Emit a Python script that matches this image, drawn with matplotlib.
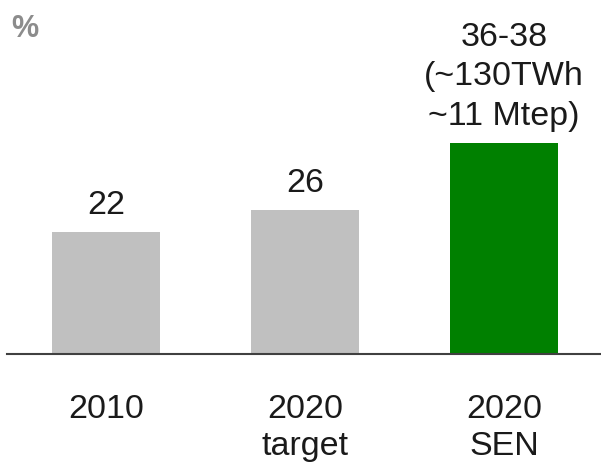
import matplotlib
matplotlib.use('Agg')
import matplotlib.pyplot as plt

plt.rcParams['font.family'] = ['Liberation Sans', 'DejaVu Sans']

categories = ['2010', '2020\ntarget', '2020\nSEN']
values = [22, 26, 38]
value_labels = ['22', '26', '36-38\n(~130TWh\n~11 Mtep)']
colors = ['#C0C0C0', '#C0C0C0', '#008000']

fig = plt.figure(figsize=(6.01, 4.62), dpi=100)
ax = fig.add_axes([7 / 601, 108 / 462, 594 / 601, 354 / 462])

x = range(len(categories))
bars = ax.bar(x, values, width=0.54, color=colors)

# etichette sopra le barre
for bar, lab in zip(bars, value_labels):
    ax.annotate(lab, (bar.get_x() + bar.get_width() / 2, bar.get_height()),
                xytext=(0, 8), textcoords='offset points',
                ha='center', va='bottom', fontsize=24.5, linespacing=1.36,
                color='#1a1a1a')

ax.set_xlim(-0.497, 2.487)
ax.set_ylim(0, 63.8)
ax.set_xticks(list(x))
ax.set_xticklabels(categories, fontsize=24.5, color='#1a1a1a', linespacing=1.25)
ax.tick_params(axis='x', length=0, pad=29)
ax.set_yticks([])
for s in ['top', 'right', 'left']:
    ax.spines[s].set_visible(False)
ax.spines['bottom'].set_color('#404040')
ax.spines['bottom'].set_linewidth(1.5)

fig.text(11 / 601, 1 - 29 / 462, '%', fontsize=22, fontweight='bold',
         color='#8c8c8c', va='center', ha='left')

fig.savefig('out.png', dpi=100)
